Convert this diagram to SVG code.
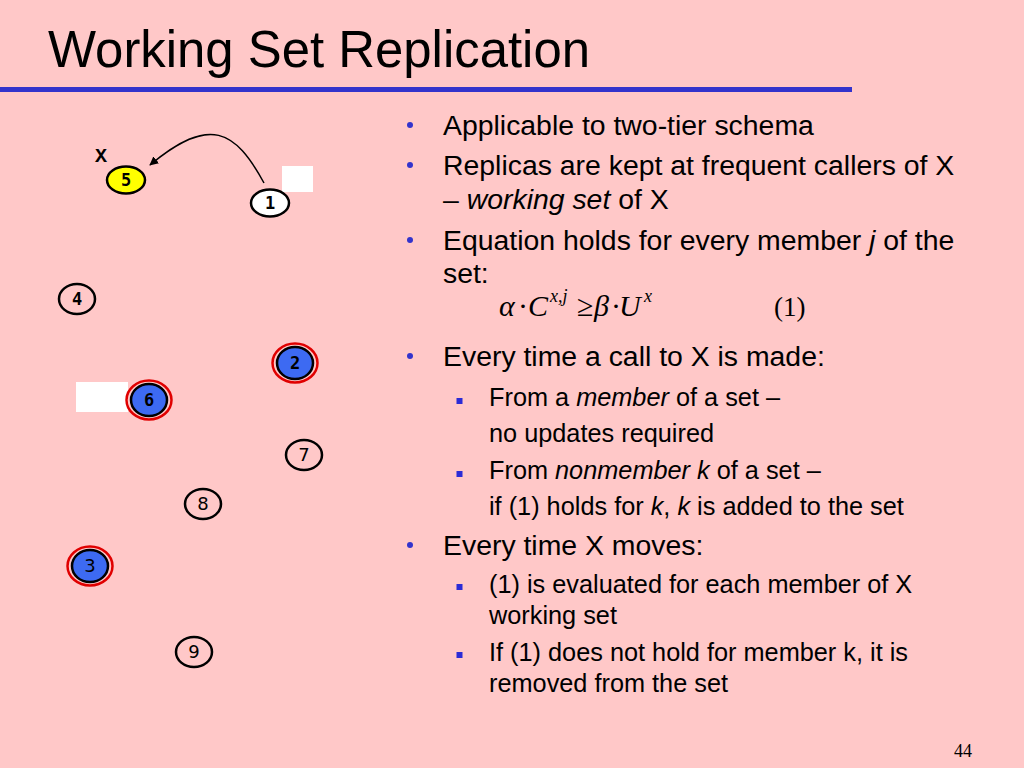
<svg xmlns="http://www.w3.org/2000/svg" width="1024" height="768" viewBox="0 0 1024 768">
<defs>
<style>
.bg{fill:#ffc8c8}
.title{font-family:"Liberation Sans",Arial,sans-serif;font-size:52px;fill:#000}
.t1{font-family:"Liberation Sans",Arial,sans-serif;font-size:28.4px;fill:#000}
.t2{font-family:"Liberation Sans",Arial,sans-serif;font-size:25.3px;fill:#000}
.it{font-style:italic}
.dot{fill:#3333cc}
.sq{fill:#2b2bd6}
.node{stroke:#000;stroke-width:2.5}
.ring{fill:none;stroke:#e00000;stroke-width:2.5}
.lbl{font-family:"DejaVu Sans Mono","Liberation Mono",monospace;font-size:17px;font-weight:bold;fill:#000;text-anchor:middle}
.lbln{font-family:"DejaVu Sans",sans-serif;font-size:18px;fill:#000;text-anchor:middle}
.eq{font-family:"Liberation Serif","Times New Roman",serif;font-size:30px;fill:#000}
.sup{font-size:18px;font-style:italic}
.num{font-size:27px}
</style>
<marker id="ah" viewBox="0 0 10 10" refX="9" refY="5" markerWidth="9" markerHeight="9" markerUnits="userSpaceOnUse" orient="auto">
<path d="M0,0 L10,5 L0,10 z" fill="#000"/>
</marker>
</defs>
<rect class="bg" x="0" y="0" width="1024" height="768"/>
<text class="title" x="48" y="67" textLength="542" lengthAdjust="spacingAndGlyphs">Working Set Replication</text>
<rect x="0" y="87" width="852" height="5" fill="#3333cc"/>

<g id="connectors">
<path d="M264,183 C235,130 210,115 150,165" fill="none" stroke="#000" stroke-width="1.5" marker-end="url(#ah)"/>
</g>

<text x="101" y="162" font-family="Liberation Mono,monospace" font-weight="bold" font-size="20" text-anchor="middle">X</text>
<g id="node5"><ellipse class="node" cx="126" cy="180" rx="19" ry="13.5" fill="#ffff00"/><text class="lbl" x="126" y="186">5</text></g>
<rect x="282" y="166" width="31" height="26" fill="#ffffff"/>
<g id="node1"><ellipse class="node" cx="270" cy="203" rx="19" ry="13.5" fill="#ffffff"/><text class="lbl" x="270" y="209">1</text></g>
<g id="node4"><ellipse class="node" cx="77" cy="299" rx="18" ry="15" fill="none"/><text class="lbl" x="77" y="305">4</text></g>
<g id="node2"><ellipse class="ring" cx="295" cy="363" rx="22.5" ry="19.5"/><ellipse class="node" cx="295" cy="363" rx="18" ry="16" fill="#3d6af2"/><text class="lbl" x="295" y="369">2</text></g>
<rect x="76" y="382" width="52" height="30" fill="#ffffff"/>
<g id="node6"><ellipse class="ring" cx="149" cy="400" rx="22.5" ry="19.5"/><ellipse class="node" cx="149" cy="400" rx="18" ry="16" fill="#3d6af2"/><text class="lbl" x="149" y="406">6</text></g>
<g id="node7"><ellipse class="node" cx="304" cy="455" rx="18" ry="15" fill="none"/><text class="lbln" x="304" y="461">7</text></g>
<g id="node8"><ellipse class="node" cx="203" cy="504" rx="18" ry="15" fill="none"/><text class="lbln" x="203" y="510">8</text></g>
<g id="node3"><ellipse class="ring" cx="90" cy="566" rx="22.5" ry="19.5"/><ellipse class="node" cx="90" cy="566" rx="18" ry="16" fill="#3d6af2"/><text class="lbln" x="90" y="572">3</text></g>
<g id="node9"><ellipse class="node" cx="194" cy="652" rx="18" ry="15" fill="none"/><text class="lbln" x="194" y="658">9</text></g>

<g id="bullets">
<circle class="dot" cx="410" cy="125" r="3"/>
<text class="t1" x="443" y="135">Applicable to two-tier schema</text>
<circle class="dot" cx="410" cy="165" r="3"/>
<text class="t1" x="443" y="175">Replicas are kept at frequent callers of X</text>
<text class="t1" x="443" y="209">– <tspan class="it">working set</tspan> of X</text>
<circle class="dot" cx="410" cy="240" r="3"/>
<text class="t1" x="443" y="250">Equation holds for every member <tspan class="it">j</tspan> of the</text>
<text class="t1" x="443" y="283">set:</text>

<text class="eq" y="316"><tspan x="499" font-style="italic">α</tspan><tspan x="518">·</tspan><tspan x="528" font-style="italic">C</tspan><tspan class="sup" x="550" y="302">x,j</tspan><tspan x="577" y="316">≥</tspan><tspan x="594" font-style="italic">β</tspan><tspan x="611">·</tspan><tspan x="619" font-style="italic">U</tspan><tspan class="sup" x="644" y="302">x</tspan><tspan class="num" x="774" y="316">(1)</tspan></text>

<circle class="dot" cx="410" cy="356" r="3"/>
<text class="t1" x="443" y="366">Every time a call to X is made:</text>
<rect class="sq" x="456.5" y="398" width="6" height="6"/>
<text class="t2" x="489" y="406">From a <tspan class="it">member</tspan> of a set –</text>
<text class="t2" x="489" y="442">no updates required</text>
<rect class="sq" x="456.5" y="471" width="6" height="6"/>
<text class="t2" x="489" y="479">From <tspan class="it">nonmember k</tspan> of a set –</text>
<text class="t2" x="489" y="515"><tspan>if (1) holds for </tspan><tspan class="it">k</tspan>, <tspan class="it">k</tspan> is added to the set</text>
<circle class="dot" cx="410" cy="545" r="3"/>
<text class="t1" x="443" y="555">Every time X moves:</text>
<rect class="sq" x="456.5" y="584" width="6" height="6"/>
<text class="t2" x="489" y="593">(1) is evaluated for each member of X</text>
<text class="t2" x="489" y="624">working set</text>
<rect class="sq" x="456.5" y="652" width="6" height="6"/>
<text class="t2" x="489" y="661">If (1) does not hold for member k, it is</text>
<text class="t2" x="489" y="692">removed from the set</text>
</g>
<text x="972" y="757" font-family="Liberation Serif,serif" font-size="18" text-anchor="end">44</text>
</svg>
